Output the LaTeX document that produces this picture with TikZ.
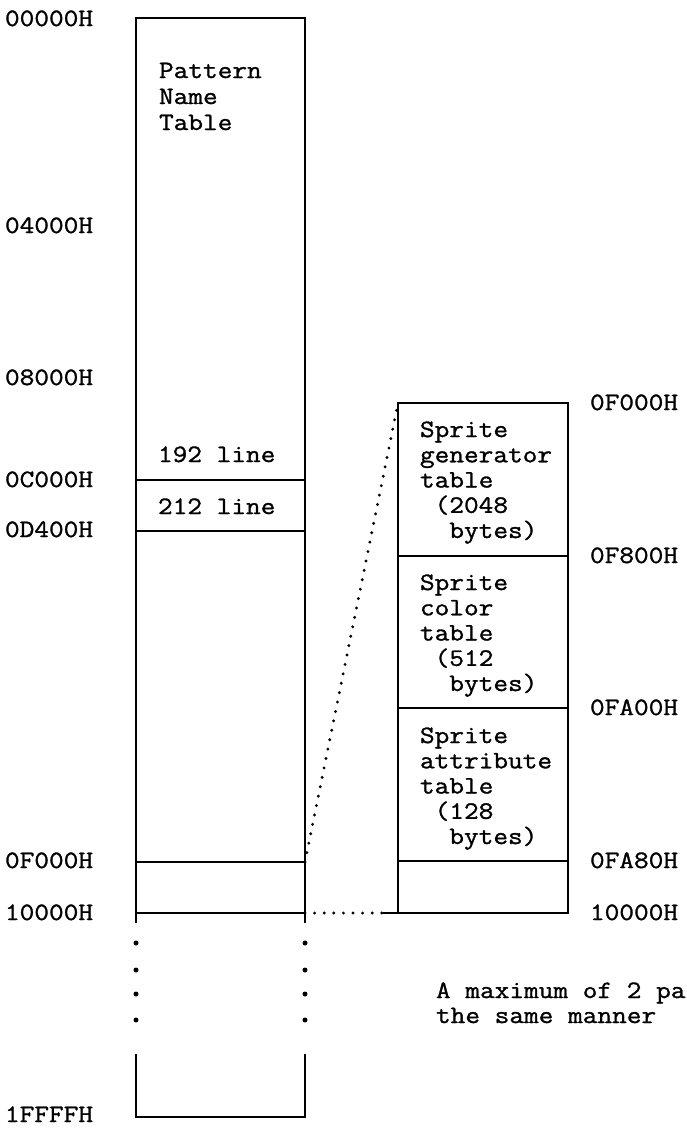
\documentclass[tikz,border=0pt]{standalone}
\usepackage{fontspec}
\newfontfamily\twfont[FakeBold=1.2,FakeStretch=1.14]{Latin Modern Mono}
\begin{document}
\begin{tikzpicture}[x=1pt,y=-1pt,
  txt/.style={anchor=base west,inner sep=0pt,outer sep=0pt,font=\twfont\fontsize{25}{26}\selectfont},
  wall/.style={line width=2.3pt,line cap=rect},
  dotline/.style={line width=3.2pt,dash pattern=on 0pt off 9.6pt,line cap=round},
  dotmark/.style={circle,fill=black,inner sep=0pt,minimum size=5pt}]
\useasboundingbox (0,0) rectangle (686,1128);
% --- left memory map ---
\coordinate (LTL) at (136,18);   \coordinate (LTR) at (305,18);
\coordinate (LCl) at (136,480);  \coordinate (LCr) at (305,480);
\coordinate (LDl) at (136,531);  \coordinate (LDr) at (305,531);
\coordinate (LFl) at (136,862);  \coordinate (LFr) at (305,862);
\coordinate (LGl) at (136,913);  \coordinate (LGr) at (305,913);
\coordinate (LBl) at (136,922);  \coordinate (LBr) at (305,922);
\draw[wall] (LBl) -- (LTL) -- (LTR) -- (LBr);
\draw[wall] (LCl) -- (LCr);
\draw[wall] (LDl) -- (LDr);
\draw[wall] (LFl) -- (LFr);
\draw[wall] (LGl) -- (LGr);
% lower part
\coordinate (LLl) at (136,1055); \coordinate (LLr) at (305,1055);
\coordinate (LEl) at (136,1117); \coordinate (LEr) at (305,1117);
\draw[wall] (LLl) -- (LEl) -- (LEr) -- (LLr);
\foreach \yy [count=\i] in {943,970,994,1020}{
  \node[dotmark] (dl\i) at (136,\yy) {};
  \node[dotmark] (dr\i) at (305,\yy) {};
}
% --- right (sprite) map ---
\coordinate (RTL) at (398,403);  \coordinate (RTR) at (568,403);
\coordinate (R8l) at (398,556);  \coordinate (R8r) at (568,556);
\coordinate (RAl) at (398,708);  \coordinate (RAr) at (568,708);
\coordinate (RBl) at (398,861);  \coordinate (RBr) at (568,861);
\coordinate (RGl) at (398,913);  \coordinate (RGr) at (568,913);
\coordinate (RGx) at (384,913);
\draw[wall] (RGl) -- (RTL) -- (RTR) -- (RGr);
\draw[wall] (R8l) -- (R8r);
\draw[wall] (RAl) -- (RAr);
\draw[wall] (RBl) -- (RBr);
\draw[wall] (RGx) -- (RGr);
% dotted connectors
\draw[dotline] (LFr) -- (RTL);
\draw[dotline] (LGr) -- (RGx);
% --- left labels ---
\node[txt] (a0) at (5,26)   {00000H};
\node[txt] (a1) at (5,233)  {04000H};
\node[txt] (a2) at (5,385)  {08000H};
\node[txt] (a3) at (5,487)  {0C000H};
\node[txt] (a4) at (5,537)  {0D400H};
\node[txt] (a5) at (5,868)  {0F000H};
\node[txt] (a6) at (5,920)  {10000H};
\node[txt] (a7) at (5,1122) {1FFFFH};
% --- right labels ---
\node[txt] (b0) at (590,410) {0F000H};
\node[txt] (b1) at (590,563) {0F800H};
\node[txt] (b2) at (590,715) {0FA00H};
\node[txt] (b3) at (590,868) {0FA80H};
\node[txt] (b4) at (590,920) {10000H};
% --- texts in left map ---
\node[txt] (p1) at (159,78)  {Pattern};
\node[txt] (p2) at (159,104) {Name};
\node[txt] (p3) at (159,130) {Table};
\node[txt] (l1) at (158,462) {192 line};
\node[txt] (l2) at (158,514) {212 line};
% --- texts in sprite map ---
\node[txt] (g1) at (420,437)   {Sprite};
\node[txt] (g2) at (420,462.3) {generator};
\node[txt] (g3) at (420,487.5) {table};
\node[txt] (g4) at (420,512.8) {\ (2048};
\node[txt] (g5) at (420,538)   {\ \ bytes)};
\node[txt] (c1) at (420,590)   {Sprite};
\node[txt] (c2) at (420,615.3) {color};
\node[txt] (c3) at (420,640.5) {table};
\node[txt] (c4) at (420,665.8) {\ (512};
\node[txt] (c5) at (420,691)   {\ \ bytes)};
\node[txt] (t1) at (420,743)   {Sprite};
\node[txt] (t2) at (420,768.3) {attribute};
\node[txt] (t3) at (420,793.5) {table};
\node[txt] (t4) at (420,818.8) {\ (128};
\node[txt] (t5) at (420,844)   {\ \ bytes)};
% --- note ---
\node[txt] (n1) at (436,998)  {A maximum of 2 pa};
\node[txt] (n2) at (436,1023) {the same manner};
\end{tikzpicture}
\end{document}
